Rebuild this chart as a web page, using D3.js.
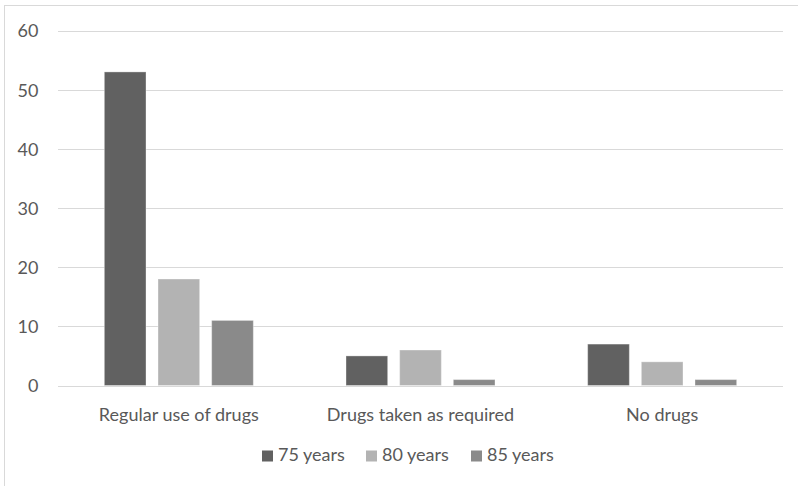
<!DOCTYPE html>
<html>
<head>
<meta charset="utf-8">
<script src="https://cdn.jsdelivr.net/npm/d3@7"></script>
<style>
  html, body { margin: 0; padding: 0; background: #fff; }
  svg text { font-family: Lato, "Open Sans", sans-serif; fill: #595959; }
</style>
</head>
<body>
<svg id="chart" width="798" height="486"></svg>
<script>
const categories = ["Regular use of drugs", "Drugs taken as required", "No drugs"];
const seriesNames = ["75 years", "80 years", "85 years"];
const values75 = [53, 5, 7];
const values80 = [18, 6, 4];
const values85 = [11, 1, 1];
const yTicks = [0, 10, 20, 30, 40, 50, 60];
const colors = ["#616161", "#b3b3b3", "#8a8a8a"];

const seriesValues = [values75, values80, values85];
const rows = categories.map((c, i) => ({
  category: c,
  vals: seriesNames.map((s, j) => ({ series: s, value: seriesValues[j][i], color: colors[j] }))
}));

const svg = d3.select("#chart");
const W = 798, H = 486;
const plot = { left: 58, right: 783, top: 30.5, bottom: 385.5 };
const fontSize = "18px";

// chart frame (only top and left edges fall inside the image)
svg.append("rect")
  .attr("x", 4.5).attr("y", 5.5)
  .attr("width", W + 10).attr("height", H + 10)
  .attr("fill", "none").attr("stroke", "#d9d9d9").attr("stroke-width", 1);

const x0 = d3.scaleBand().domain(categories).range([plot.left, plot.right]).paddingInner(0).paddingOuter(0);
const groupWidth = 149;
const x1 = d3.scaleBand().domain(seriesNames).range([0, groupWidth]).paddingInner(12 / 53.7).paddingOuter(0);
const y = d3.scaleLinear().domain([0, 60]).range([plot.bottom, plot.top]);

// horizontal gridlines
svg.append("g").selectAll("line").data(yTicks).join("line")
  .attr("x1", plot.left).attr("x2", plot.right)
  .attr("y1", d => Math.round(y(d)) + 0.5).attr("y2", d => Math.round(y(d)) + 0.5)
  .attr("stroke", "#d9d9d9").attr("stroke-width", 1);

// y axis labels
const yAxis = d3.axisLeft(y).tickValues(yTicks).tickSize(0).tickPadding(0);
const gy = svg.append("g").attr("transform", `translate(38.5,0)`).call(yAxis);
gy.select(".domain").remove();
gy.selectAll("text").style("font-size", fontSize).style("font-family", "Lato").attr("fill", "#595959").attr("dy", "0.36em");

// bars
const groups = svg.append("g").selectAll("g").data(rows).join("g")
  .attr("transform", d => `translate(${x0(d.category) + (x0.bandwidth() - groupWidth) / 2},0)`);
groups.selectAll("rect").data(d => d.vals).join("rect")
  .attr("x", d => x1(d.series))
  .attr("width", x1.bandwidth())
  .attr("y", d => y(d.value))
  .attr("height", d => y(0) - y(d.value))
  .attr("fill", d => d.color)
  .attr("stroke", "#ffffff").attr("stroke-opacity", 0.35).attr("stroke-width", 1);

// category labels
const xAxis = d3.axisBottom(x0).tickSize(0).tickPadding(0);
const gx = svg.append("g").attr("transform", `translate(0,${plot.bottom})`).call(xAxis);
gx.select(".domain").remove();
gx.selectAll("text").style("font-size", fontSize).style("font-family", "Lato").attr("fill", "#595959").attr("y", 35.5).attr("dy", 0);

// legend
const legendX = [262, 366, 471];
const legend = svg.append("g").selectAll("g").data(seriesNames).join("g")
  .attr("transform", (d, i) => `translate(${legendX[i]},450.5)`);
legend.append("rect").attr("width", 11).attr("height", 11).attr("fill", (d, i) => colors[i]);
legend.append("text").attr("x", 16).attr("y", 10.5).style("font-size", fontSize).text(d => d);
</script>
</body>
</html>
